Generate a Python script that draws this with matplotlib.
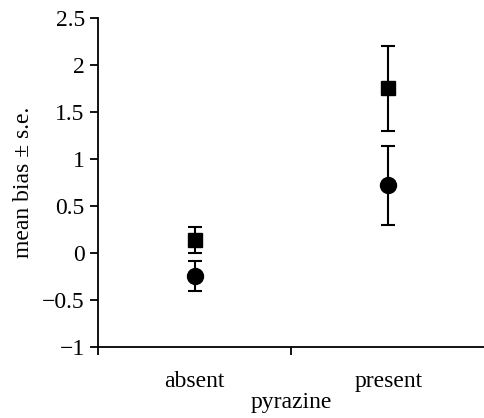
import matplotlib
matplotlib.use("Agg")
import matplotlib.pyplot as plt

# valores
grupos = ["absent", "present"]
cuadrado_media = [0.14, 1.75]
cuadrado_se = [0.14, 0.45]
circulo_media = [-0.25, 0.72]
circulo_se = [0.16, 0.42]
yticks = [-1, -0.5, 0, 0.5, 1, 1.5, 2, 2.5]

plt.rcParams['font.family'] = ['Liberation Serif', 'DejaVu Serif']
plt.rcParams['font.size'] = 17

fig = plt.figure(figsize=(4.85, 4.18), dpi=100)
ax = fig.add_axes([0.202, 0.170, 0.798, 0.787])

pos = [0.5, 1.5]
ax.errorbar(pos, cuadrado_media, yerr=cuadrado_se, fmt='s', color='black',
            markersize=10.5, capsize=5, elinewidth=1.5, capthick=1.5)
ax.errorbar(pos, circulo_media, yerr=circulo_se, fmt='o', color='black',
            markersize=11.5, capsize=5, elinewidth=1.5, capthick=1.5)

ax.set_xlim(0, 2)
ax.set_ylim(-1, 2.5)
ax.set_yticks(yticks)
ax.set_yticklabels([str(t).replace('-', '\u2212').replace('.0', '') if t != 0 else '0' for t in yticks])
ax.set_xticks([0, 1, 2])
ax.set_xticklabels([])
ax.set_xticks(pos, minor=True)
ax.set_xticklabels(grupos, minor=True)
ax.tick_params(axis='x', which='minor', length=0, pad=17)
ax.tick_params(axis='both', which='major', direction='out', length=6, width=1.3)
ax.spines['top'].set_visible(False)
ax.spines['right'].set_visible(False)
ax.spines['left'].set_linewidth(1.3)
ax.spines['bottom'].set_linewidth(1.3)
ax.set_xlabel('pyrazine', labelpad=0)
ax.set_ylabel('mean bias \u00b1 s.e.', labelpad=6)

fig.savefig('out.png', dpi=100)
